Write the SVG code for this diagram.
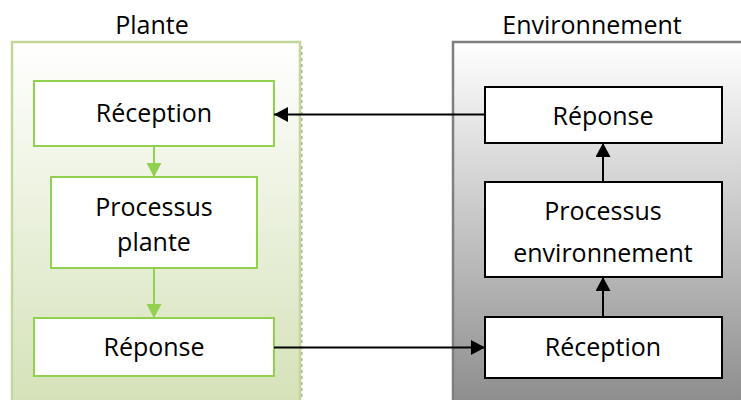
<svg xmlns="http://www.w3.org/2000/svg" width="741" height="400" viewBox="0 0 741 400">
<defs>
<linearGradient id="gPlant" gradientUnits="userSpaceOnUse" x1="0" y1="42" x2="0" y2="400">
<stop offset="0" stop-color="#ffffff"/>
<stop offset="1" stop-color="#d5e2b9"/>
</linearGradient>
<linearGradient id="gEnv" gradientUnits="userSpaceOnUse" x1="0" y1="42" x2="0" y2="420">
<stop offset="0" stop-color="#ffffff"/>
<stop offset="1" stop-color="#888888"/>
</linearGradient>
<marker id="ag" viewBox="0 0 14 15" refX="14" refY="7.5" markerWidth="14" markerHeight="15" markerUnits="userSpaceOnUse" orient="auto">
<path d="M0,0 L14,7.5 L0,15 Z" fill="#92d050"/>
</marker>
<marker id="ab" viewBox="0 0 14 15" refX="14" refY="7.5" markerWidth="14" markerHeight="15" markerUnits="userSpaceOnUse" orient="auto">
<path d="M0,0 L14,7.5 L0,15 Z" fill="#000"/>
</marker>
</defs>
<style>
text{font-family:"Open Sans","Noto Sans","Liberation Sans",sans-serif;font-size:25px;fill:#000;text-anchor:middle}
.gbox{fill:#fff;stroke:#92d050;stroke-width:2}
.bbox{fill:#fff;stroke:#000;stroke-width:2}
.gline{stroke:#92d050;stroke-width:2;fill:none;marker-end:url(#ag)}
.bline{stroke:#000;stroke-width:2;fill:none;marker-end:url(#ab)}
</style>
<rect width="741" height="400" fill="#fff"/>
<g id="plante">
<line x1="301.5" y1="46" x2="301.5" y2="400" stroke="#a8b090" stroke-width="2" stroke-dasharray="3,3"/>
<rect x="12" y="42" width="288" height="370" fill="url(#gPlant)" stroke="#c3d69b" stroke-width="2.5"/>
<text x="152" y="34">Plante</text>
</g>
<g id="environnement">
<rect x="453" y="42" width="300" height="370" fill="url(#gEnv)" stroke="#7f7f7f" stroke-width="2.5"/>
<text x="592" y="34">Environnement</text>
</g>
<g id="p-reception">
<rect class="gbox" x="34" y="81" width="240" height="65"/>
<text x="154" y="122">Réception</text>
</g>
<g id="p-processus">
<rect class="gbox" x="51" y="177" width="206" height="91"/>
<text x="154" y="216">Processus</text>
<text x="154" y="251">plante</text>
</g>
<g id="p-reponse">
<rect class="gbox" x="34" y="318" width="240" height="58"/>
<text x="154" y="356">Réponse</text>
</g>
<g id="e-reponse">
<rect class="bbox" x="485" y="87" width="237" height="56"/>
<text x="603" y="125">Réponse</text>
</g>
<g id="e-processus">
<rect class="bbox" x="485" y="182" width="237" height="95"/>
<text x="603" y="220">Processus</text>
<text x="603" y="262">environnement</text>
</g>
<g id="e-reception">
<rect class="bbox" x="485" y="317" width="237" height="61"/>
<text x="603" y="356">Réception</text>
</g>
<g id="connectors">
<line class="gline" x1="154" y1="147" x2="154" y2="177"/>
<line class="gline" x1="154" y1="269" x2="154" y2="318"/>
<line class="bline" x1="603" y1="182" x2="603" y2="143"/>
<line class="bline" x1="603" y1="317" x2="603" y2="277"/>
<line class="bline" x1="485" y1="114.5" x2="274" y2="114.5"/>
<line class="bline" x1="274" y1="347.5" x2="485" y2="347.5"/>
</g>
</svg>
